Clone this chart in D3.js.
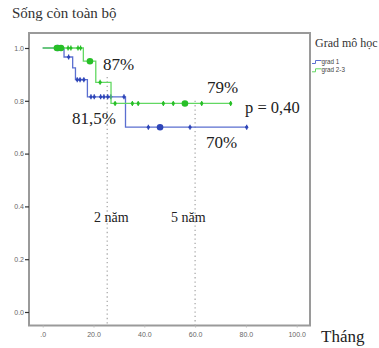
<!DOCTYPE html>
<html>
<head>
<meta charset="utf-8">
<script src="https://cdn.jsdelivr.net/npm/d3@7"></script>
<style>
  html, body { margin: 0; padding: 0; background: #fff; }
  svg { display: block; }
</style>
</head>
<body>
<svg id="chart" width="379" height="348"></svg>
<script>
// Kaplan–Meier overall survival by histological grade (months)
const grade1Steps = [[0, 1.0], [8.4, 0.966], [11.8, 0.925], [12.9, 0.88], [17.6, 0.815], [32.6, 0.70]];
const grade1End = 80.3;
const grade1Censored = [10.2, 13.6, 14.7, 16.2, 19.0, 20.3, 22.8, 24.1, 25.6, 26.8, 32.0, 41.6, 58.0, 80.3];
const grade1Clustered = [6.0, 46.2];

const grade23Steps = [[0, 1.0], [16.0, 0.95], [20.9, 0.87], [26.9, 0.79]];
const grade23End = 74.0;
const grade23Censored = [10.0, 11.1, 13.9, 14.9, 22.6, 28.5, 35.3, 37.6, 47.5, 51.4, 62.6, 74.0];
const grade23Clustered = [5.6, 7.2, 18.6, 56.0];

const seriesNames = ["grad 1", "grad 2-3"];
const xTicks = [0, 20, 40, 60, 80, 100];
const xTickLabels = [".0", "20.0", "40.0", "60.0", "80.0", "100.0"];
const yTicks = [0, 0.2, 0.4, 0.6, 0.8, 1.0];
const yTickLabels = ["0.0", "0.2", "0.4", "0.6", "0.8", "1.0"];
const markerLines = [[25.4, 0.89], [60, 0.80]];

const svg = d3.select("#chart");
const frame = { left: 29, top: 33, right: 310, bottom: 325.5 };
const x = d3.scaleLinear().domain([0, 100]).range([42.7, 296.7]);
const y = d3.scaleLinear().domain([0, 1]).range([312, 48]);

// plot frame
svg.append("rect")
  .attr("x", frame.left).attr("y", frame.top)
  .attr("width", frame.right - frame.left).attr("height", frame.bottom - frame.top)
  .attr("fill", "none").attr("stroke", "#9a9a9a").attr("stroke-width", 2);

// axes
const yAxis = d3.axisLeft(y).tickValues(yTicks).tickSize(4)
  .tickFormat((d, i) => yTickLabels[i]);
const gy = svg.append("g").attr("transform", `translate(${frame.left},0)`).call(yAxis);
gy.select(".domain").remove();
gy.selectAll("line").attr("stroke", "#333").attr("stroke-width", 1.2);
gy.selectAll("text").attr("font-family", "Arial, 'Liberation Sans', sans-serif")
  .attr("font-size", 7).attr("fill", "#666").attr("x", -5);

const xAxis = d3.axisBottom(x).tickValues(xTicks).tickSize(2)
  .tickFormat((d, i) => xTickLabels[i]);
const gx = svg.append("g").attr("transform", `translate(0,${frame.bottom})`).call(xAxis);
gx.select(".domain").remove();
gx.selectAll("line").attr("stroke", "#bbb");
gx.selectAll("text").attr("font-family", "Arial, 'Liberation Sans', sans-serif")
  .attr("font-size", 7).attr("fill", "#666").attr("dy", "0.9em");

// 2-year and 5-year reference lines
svg.selectAll(".ref").data(markerLines).enter().append("line")
  .attr("x1", d => x(d[0])).attr("x2", d => x(d[0]))
  .attr("y1", d => y(d[1])).attr("y2", frame.bottom)
  .attr("stroke", "#aaa").attr("stroke-width", 1.3).attr("stroke-dasharray", "1.3,3");

function survivalAt(steps, t) {
  let s = steps[0][1];
  for (const [tt, v] of steps) if (tt <= t) s = v;
  return s;
}

function drawCurve(steps, end, censored, clustered, lineColor, markColor) {
  const pts = steps.concat([[end, steps[steps.length - 1][1]]]);
  const line = d3.line().x(d => x(d[0])).y(d => y(d[1])).curve(d3.curveStepAfter);
  svg.append("path").attr("d", line(pts)).attr("fill", "none")
    .attr("stroke", lineColor).attr("stroke-width", 1.3);
  const g = svg.append("g");
  censored.forEach(t => {
    const cx = x(t), cy = y(survivalAt(steps, t));
    g.append("line").attr("x1", cx).attr("x2", cx).attr("y1", cy - 2.5).attr("y2", cy + 2.5)
      .attr("stroke", markColor).attr("stroke-width", 1.2);
    g.append("circle").attr("cx", cx).attr("cy", cy).attr("r", 1.6).attr("fill", markColor);
  });
  clustered.forEach(t => {
    g.append("circle").attr("cx", x(t)).attr("cy", y(survivalAt(steps, t)))
      .attr("r", 3.3).attr("fill", markColor);
  });
}

drawCurve(grade1Steps, grade1End, grade1Censored, grade1Clustered, "#5b6fd0", "#2e45b8");
drawCurve(grade23Steps, grade23End, grade23Censored, grade23Clustered, "#62d862", "#27bf27");

// title and annotations
const serif = "'Liberation Serif', 'Times New Roman', serif";
function label(txt, px, py, size, color) {
  svg.append("text").attr("x", px).attr("y", py).text(txt)
    .attr("font-family", serif).attr("font-size", size).attr("fill", color || "#222");
}
label("Sống còn toàn bộ", 12, 18, 15, "#333");
label("87%", 103, 69.5, 17);
label("79%", 207, 93.3, 17);
label("p = 0,40", 245, 113, 16.5);
label("81,5%", 72, 124.3, 17);
label("70%", 206, 148, 17);
label("2 năm", 94, 222, 14);
label("5 năm", 171, 222, 14);
label("Tháng", 321, 342, 17, "#222");

// legend
label("Grad mô học", 315, 47, 12, "#333");
const legendColors = ["#5b6fd0", "#62d862"];
seriesNames.forEach((name, i) => {
  const ly = 62 + i * 8.3;
  svg.append("path").attr("d", `M312,${ly + 1.5} h3.5 v-3 h6`)
    .attr("fill", "none").attr("stroke", legendColors[i]).attr("stroke-width", 1);
  svg.append("text").attr("x", 321.5).attr("y", ly + 2).text(name)
    .attr("font-family", "Arial, 'Liberation Sans', sans-serif").attr("font-size", 6.3).attr("fill", "#444");
});
</script>
</body>
</html>
